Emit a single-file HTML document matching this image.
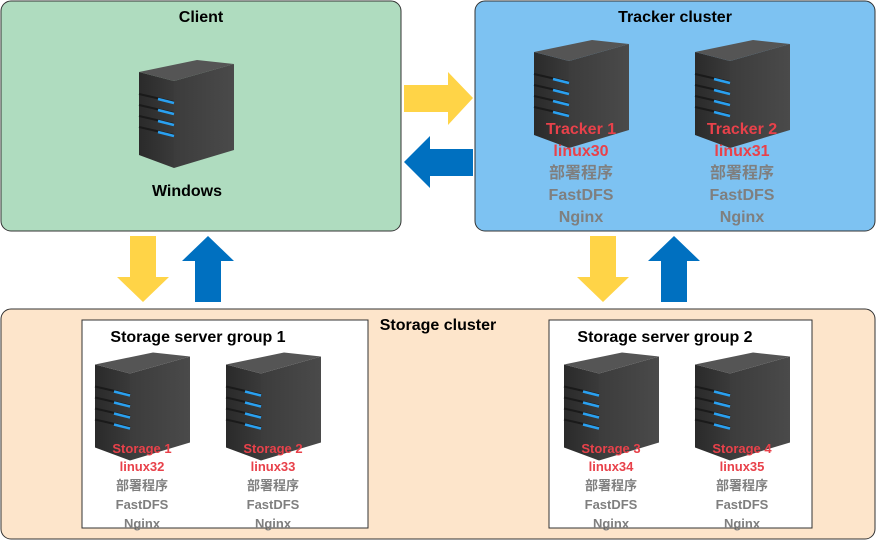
<!DOCTYPE html>
<html><head><meta charset="utf-8"><style>
html,body{margin:0;padding:0;background:#fff;}
svg text{font-family:"Liberation Sans","Noto Sans CJK SC",sans-serif;font-weight:bold;text-anchor:middle;}
</style></head><body>
<svg width="876" height="540" viewBox="0 0 876 540" xmlns="http://www.w3.org/2000/svg">
<defs>
<linearGradient id="fr" x1="0" x2="1"><stop offset="0" stop-color="#2a2a2a"/><stop offset="1" stop-color="#3a3a3a"/></linearGradient>
<linearGradient id="sd" x1="0" x2="1"><stop offset="0" stop-color="#3c3c3c"/><stop offset="1" stop-color="#4a4a4a"/></linearGradient>
<symbol id="srv" viewBox="0 0 96 110" overflow="visible">
<polygon points="0,12 35,21 35,108 0,95" fill="url(#fr)"/>
<polygon points="35,21 95,4 95,90 35,108" fill="url(#sd)"/>
<polygon points="0,12 58,0 95,4 35,21" fill="#555"/>
<g stroke="#1a1a1a" stroke-width="2">
<line x1="0" y1="34" x2="35" y2="42"/><line x1="0" y1="45" x2="35" y2="53"/><line x1="0" y1="56" x2="35" y2="64"/><line x1="0" y1="67" x2="35" y2="75"/>
</g>
<g stroke="#2aa0f0" stroke-width="2.5">
<line x1="19" y1="39" x2="35" y2="43"/><line x1="19" y1="50" x2="35" y2="54"/><line x1="19" y1="61" x2="35" y2="65"/><line x1="19" y1="72" x2="35" y2="76"/>
</g>
</symbol>
</defs>
<rect x="1" y="1" width="400" height="230" rx="10" fill="#afdcbf" stroke="#333" stroke-width="1"/>
<rect x="475" y="1" width="400" height="230" rx="10" fill="#7dc2f2" stroke="#333" stroke-width="1"/>
<rect x="1" y="309" width="874" height="230" rx="10" fill="#fde5cb" stroke="#333" stroke-width="1"/>
<rect x="82" y="320" width="286" height="208" fill="#fff" stroke="#333"/>
<rect x="549" y="320" width="263" height="208" fill="#fff" stroke="#333"/>

<text x="201" y="22" font-size="16" fill="#000">Client</text>
<text x="675" y="22" font-size="16" fill="#000">Tracker cluster</text>
<text x="438" y="330" font-size="16" fill="#000">Storage cluster</text>
<text x="198" y="342" font-size="16" fill="#000">Storage server group 1</text>
<text x="665" y="342" font-size="16" fill="#000">Storage server group 2</text>

<!-- arrows -->
<polygon points="404,85 448,85 448,72 473,98 448,125 448,112 404,112" fill="#ffd447"/>
<polygon points="473,149 430,149 430,136 404,162 430,188 430,176 473,176" fill="#0070c0"/>
<polygon points="130,236 156,236 156,277 169,277 143,302 117,277 130,277" fill="#ffd447"/>
<polygon points="195,302 221,302 221,261 234,261 208,236 182,261 195,261" fill="#0070c0"/>
<polygon points="590,236 616,236 616,277 629,277 603,302 577,277 590,277" fill="#ffd447"/>
<polygon points="661,302 687,302 687,261 700,261 674,236 648,261 661,261" fill="#0070c0"/>

<use href="#srv" x="139" y="55" width="96" height="120"/>
<text x="187" y="196" font-size="16" fill="#000">Windows</text>

<use href="#srv" x="534" y="40" width="96" height="110"/>
<use href="#srv" x="695" y="40" width="96" height="110"/>
<g font-size="16">
<text x="581" y="134" fill="#e8414a">Tracker 1</text><text x="581" y="156" fill="#e8414a">linux30</text>
<text x="581" y="178" fill="#7f7f7f">部署程序</text><text x="581" y="200" fill="#7f7f7f">FastDFS</text><text x="581" y="222" fill="#7f7f7f">Nginx</text>
<text x="742" y="134" fill="#e8414a">Tracker 2</text><text x="742" y="156" fill="#e8414a">linux31</text>
<text x="742" y="178" fill="#7f7f7f">部署程序</text><text x="742" y="200" fill="#7f7f7f">FastDFS</text><text x="742" y="222" fill="#7f7f7f">Nginx</text>
</g>

<use href="#srv" x="95" y="350" width="96" height="115"/>
<use href="#srv" x="226" y="350" width="96" height="115"/>
<use href="#srv" x="564" y="350" width="96" height="115"/>
<use href="#srv" x="695" y="350" width="96" height="115"/>
<g font-size="13">
<text x="142" y="453" fill="#e8414a">Storage 1</text><text x="142" y="471" fill="#e8414a">linux32</text>
<text x="142" y="490" fill="#7f7f7f">部署程序</text><text x="142" y="509" fill="#7f7f7f">FastDFS</text><text x="142" y="528" fill="#7f7f7f">Nginx</text>
<text x="273" y="453" fill="#e8414a">Storage 2</text><text x="273" y="471" fill="#e8414a">linux33</text>
<text x="273" y="490" fill="#7f7f7f">部署程序</text><text x="273" y="509" fill="#7f7f7f">FastDFS</text><text x="273" y="528" fill="#7f7f7f">Nginx</text>
<text x="611" y="453" fill="#e8414a">Storage 3</text><text x="611" y="471" fill="#e8414a">linux34</text>
<text x="611" y="490" fill="#7f7f7f">部署程序</text><text x="611" y="509" fill="#7f7f7f">FastDFS</text><text x="611" y="528" fill="#7f7f7f">Nginx</text>
<text x="742" y="453" fill="#e8414a">Storage 4</text><text x="742" y="471" fill="#e8414a">linux35</text>
<text x="742" y="490" fill="#7f7f7f">部署程序</text><text x="742" y="509" fill="#7f7f7f">FastDFS</text><text x="742" y="528" fill="#7f7f7f">Nginx</text>
</g>
</svg>
</body></html>
